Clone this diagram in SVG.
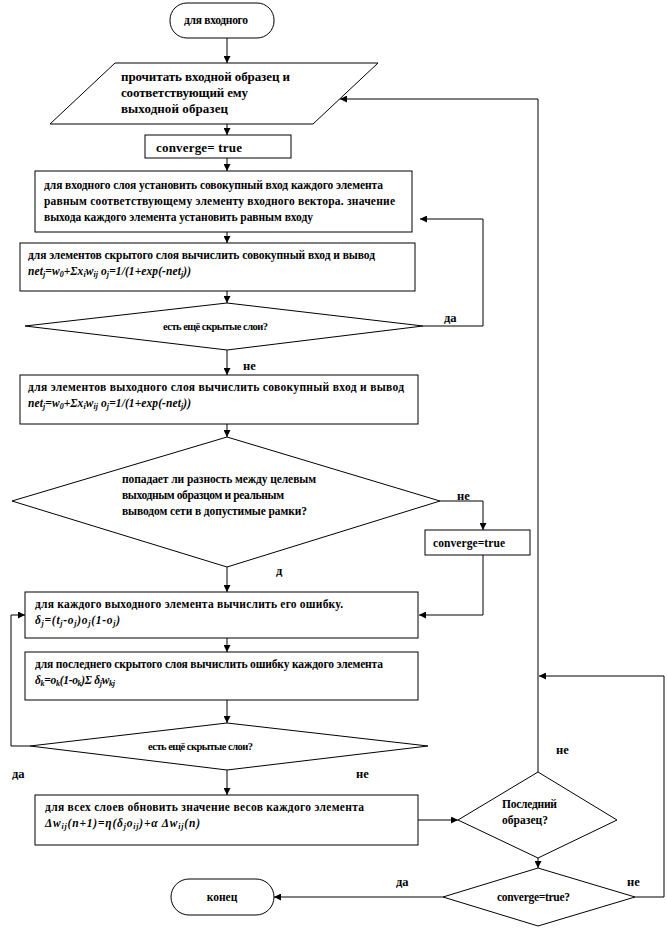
<svg xmlns="http://www.w3.org/2000/svg" width="667" height="931" viewBox="0 0 667 931">
<defs>
<marker id="ah" viewBox="0 0 10 10" refX="10" refY="5" markerWidth="7" markerHeight="7" orient="auto" markerUnits="userSpaceOnUse">
<path d="M0,0 L10,5 L0,10 z" fill="#000"/>
</marker>
<style>
.s{fill:#fff;stroke:#000;stroke-width:1}
.a{fill:none;stroke:#000;stroke-width:1;marker-end:url(#ah)}
text{font-family:"Liberation Serif","Times New Roman",serif;font-weight:bold;font-size:11.5px;fill:#000}
.big{font-size:13px}
.sm{font-size:10.5px}
.f{font-style:italic}
.sub{font-size:8px}
.lb{font-size:12.5px}
.m{text-anchor:middle}
</style>
</defs>
<rect width="667" height="931" fill="#fff"/>
<g id="connectors">
<line class="a" x1="227" y1="38" x2="227" y2="63"/>
<line class="a" x1="227" y1="124" x2="227" y2="135"/>
<line class="a" x1="227" y1="158" x2="227" y2="171"/>
<line class="a" x1="227" y1="232" x2="227" y2="243"/>
<line class="a" x1="227" y1="291" x2="227" y2="303"/>
<polyline class="a" points="423,326 483,326 483,219 420,219"/>
<line class="a" x1="227" y1="350" x2="227" y2="375"/>
<line class="a" x1="227" y1="424" x2="227" y2="437"/>
<polyline class="a" points="440,501 483,501 483,530"/>
<polyline class="a" points="483,555 483,615 419,615"/>
<line class="a" x1="227" y1="567" x2="227" y2="592"/>
<line class="a" x1="227" y1="638" x2="227" y2="652"/>
<line class="a" x1="227" y1="700" x2="227" y2="723"/>
<polyline class="a" points="30,746 11,746 11,615 25,615"/>
<line class="a" x1="227" y1="770" x2="227" y2="795"/>
<line class="a" x1="418" y1="820" x2="458" y2="820"/>
<polyline class="a" points="538,772 538,99 340,99"/>
<polyline class="a" points="635,897 664,897 664,676 539,676"/>
<line class="a" x1="538" y1="858" x2="538" y2="868"/>
<line class="a" x1="443" y1="897" x2="274" y2="897"/>
</g>
<g id="start">
<rect class="s" x="170" y="3" width="104" height="35" rx="17" ry="17"/>
<text x="184" y="24" textLength="64">для входного</text>
</g>
<g id="read">
<polygon class="s" points="115,63 378,63 313,124 50,124"/>
<text class="big" x="121" y="81" textLength="169">прочитать входной образец и</text>
<text class="big" x="121" y="97" textLength="127">соответствующий ему</text>
<text class="big" x="121" y="113" textLength="107">выходной образец</text>
</g>
<g id="conv1">
<rect class="s" x="145" y="135" width="146" height="23"/>
<text class="big" x="156" y="152" textLength="86">converge= true</text>
</g>
<g id="inlayer">
<rect class="s" x="35" y="171" width="377" height="61"/>
<text x="44" y="189" textLength="339">для входного слоя установить совокупный вход каждого элемента</text>
<text x="44" y="205" textLength="351">равным соответствующему элементу входного вектора. значение</text>
<text x="44" y="221" textLength="269">выхода каждого элемента установить равным входу</text>
</g>
<g id="hidden">
<rect class="s" x="20" y="243" width="395" height="48"/>
<text x="28" y="259" textLength="347">для элементов скрытого слоя вычислить совокупный вход и вывод</text>
<text class="f" x="28" y="275" textLength="163">net<tspan class="sub" dy="2">j</tspan><tspan dy="-2">=w</tspan><tspan class="sub" dy="2">0</tspan><tspan dy="-2">+Σx</tspan><tspan class="sub" dy="2">i</tspan><tspan dy="-2">w</tspan><tspan class="sub" dy="2">ij</tspan><tspan dy="-2"> o</tspan><tspan class="sub" dy="2">j</tspan><tspan dy="-2">=1/(1+exp(-net</tspan><tspan class="sub" dy="2">j</tspan><tspan dy="-2">))</tspan></text>
</g>
<g id="dec1">
<polygon class="s" points="227,303 423,326 227,350 25,326"/>
<text class="sm" x="163" y="330" textLength="105">есть ещё скрытые слои?</text>
<text class="lb" x="444" y="322">да</text>
<text class="lb" x="243" y="370">не</text>
</g>
<g id="outlayer">
<rect class="s" x="20" y="375" width="398" height="49"/>
<text x="28" y="391" textLength="376">для элементов выходного слоя вычислить совокупный вход и вывод</text>
<text class="f" x="28" y="407" textLength="163">net<tspan class="sub" dy="2">j</tspan><tspan dy="-2">=w</tspan><tspan class="sub" dy="2">0</tspan><tspan dy="-2">+Σx</tspan><tspan class="sub" dy="2">i</tspan><tspan dy="-2">w</tspan><tspan class="sub" dy="2">ij</tspan><tspan dy="-2"> o</tspan><tspan class="sub" dy="2">j</tspan><tspan dy="-2">=1/(1+exp(-net</tspan><tspan class="sub" dy="2">j</tspan><tspan dy="-2">))</tspan></text>
</g>
<g id="dec2">
<polygon class="s" points="227,437 440,501 227,567 12,501"/>
<text x="122" y="483" textLength="194">попадает ли разность между целевым</text>
<text x="122" y="499" textLength="162">выходным образцом и реальным</text>
<text x="122" y="515" textLength="185">выводом сети в допустимые рамки?</text>
<text class="lb" x="457" y="500">не</text>
<text class="lb" x="276" y="575">д</text>
</g>
<g id="conv2">
<rect class="s" x="425" y="530" width="105" height="25"/>
<text x="433" y="547" textLength="72">converge=true</text>
</g>
<g id="outerr">
<rect class="s" x="25" y="592" width="393" height="46"/>
<text x="35" y="608" textLength="308">для каждого выходного элемента вычислить его ошибку.</text>
<text class="f" x="35" y="624" textLength="85">δ<tspan class="sub" dy="2">j</tspan><tspan dy="-2">=(t</tspan><tspan class="sub" dy="2">j</tspan><tspan dy="-2">-o</tspan><tspan class="sub" dy="2">j</tspan><tspan dy="-2">)o</tspan><tspan class="sub" dy="2">j</tspan><tspan dy="-2">(1-o</tspan><tspan class="sub" dy="2">j</tspan><tspan dy="-2">)</tspan></text>
</g>
<g id="hiderr">
<rect class="s" x="25" y="652" width="393" height="48"/>
<text x="35" y="668" textLength="348">для последнего скрытого слоя вычислить ошибку каждого элемента</text>
<text class="f" x="35" y="684" textLength="80">δ<tspan class="sub" dy="2">k</tspan><tspan dy="-2">=o</tspan><tspan class="sub" dy="2">k</tspan><tspan dy="-2">(1-o</tspan><tspan class="sub" dy="2">k</tspan><tspan dy="-2">)Σ δ</tspan><tspan class="sub" dy="2">j</tspan><tspan dy="-2">w</tspan><tspan class="sub" dy="2">kj</tspan></text>
</g>
<g id="dec3">
<polygon class="s" points="227,723 428,746 227,770 30,746"/>
<text class="sm" x="148" y="750" textLength="105">есть ещё скрытые слои?</text>
<text class="lb" x="12" y="778">да</text>
<text class="lb" x="356" y="778">не</text>
</g>
<g id="update">
<rect class="s" x="35" y="795" width="383" height="50"/>
<text x="45" y="811" textLength="319">для всех слоев обновить значение весов каждого элемента</text>
<text class="f" x="45" y="827" textLength="155">Δw<tspan class="sub" dy="2">ij</tspan><tspan dy="-2">(n+1)=η(δ</tspan><tspan class="sub" dy="2">j</tspan><tspan dy="-2">o</tspan><tspan class="sub" dy="2">ij</tspan><tspan dy="-2">)+α Δw</tspan><tspan class="sub" dy="2">ij</tspan><tspan dy="-2">(n)</tspan></text>
</g>
<g id="dec4">
<polygon class="s" points="538,772 617,820 538,858 458,820"/>
<text x="502" y="808" textLength="55">Последний</text>
<text x="502" y="824" textLength="46">образец?</text>
<text class="lb" x="556" y="754">не</text>
</g>
<g id="dec5">
<polygon class="s" points="538,868 635,897 538,926 443,897"/>
<text x="497" y="901" textLength="73">converge=true?</text>
<text class="lb" x="396" y="886">да</text>
<text class="lb" x="627" y="886">не</text>
</g>
<g id="end">
<rect class="s" x="171" y="879" width="103" height="36" rx="18" ry="18"/>
<text class="m" x="222" y="901">конец</text>
</g>
</svg>
